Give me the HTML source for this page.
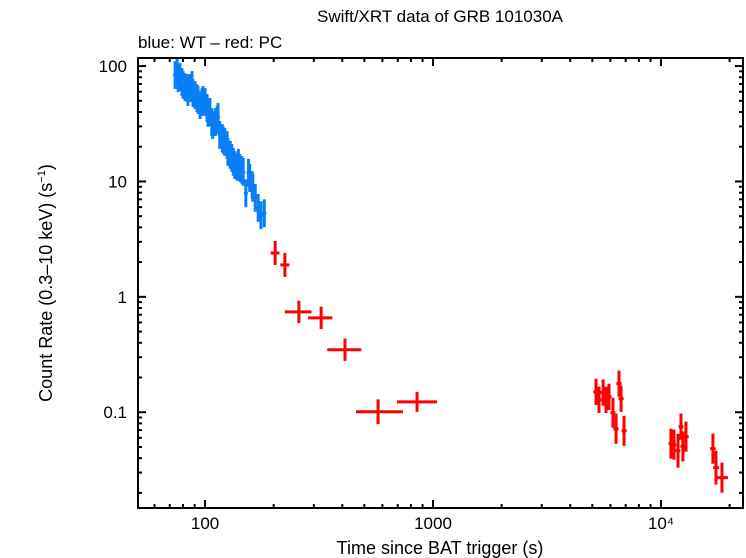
<!DOCTYPE html>
<html><head><meta charset="utf-8"><style>
html,body{margin:0;padding:0;background:#fff;}
svg{display:block;font-family:"Liberation Sans",sans-serif;}
</style></head><body>
<svg id="chart" width="746" height="558" viewBox="0 0 746 558">
<text x="440" y="22" font-size="17" text-anchor="middle">Swift/XRT data of GRB 101030A</text>
<text x="138" y="48" font-size="17">blue: WT – red: PC</text>
<text x="440" y="554" font-size="18" text-anchor="middle">Time since BAT trigger (s)</text>
<text transform="translate(52,283) rotate(-90)" font-size="18" text-anchor="middle">Count Rate (0.3–10 keV) (s<tspan font-size="11" dy="-7">−1</tspan><tspan dy="7">)</tspan></text>
<g id="marks"></g>
<g id="axes"></g>
</svg>
<script>
const wtTime=[73.9,75.4,76.2,77.6,79.2,80.1,81.7,83.4,84.2,85.9,87.7,88.5,90.4,92.2,93.2,95.1,97.0,98.0,100,102,103,105,107,108,111,113,114,116,119,120,122,125,126,129,131,133,135,138,140,142,145,147,151,155,157,161,162,166,171,176,182];
const wtRate=[83.6,89,78.7,80.3,72.6,68.5,65.7,64.5,59.5,64.5,68.5,58.4,56.1,52.8,50.8,45.9,48.8,50.8,48.8,43.3,39.2,40,32.7,30.8,32.7,34.1,36.2,25.3,23.8,22.9,22,20.7,18,17,16,14.8,13.9,13.4,14.5,13.1,12.6,12.1,7.9,11.9,10.7,9.3,8.8,7.2,5.9,5.1,5.3];
const pcTime=[203,224,258,323,411,574,851,5188,5348,5572,5741,5916,6155,6353,6546,6683,6887,11060,11400,11880,12240,12480,12870,16900,17430,18520];
const pcTimeLo=[196,216,226,286,347,464,702,5100,5260,5480,5650,5820,6060,6250,6440,6580,6780,10900,11250,11700,12050,12300,12680,16600,17100,17500];
const pcTimeHi=[210,232,290,358,480,731,1030,5280,5440,5660,5830,6010,6250,6450,6650,6790,7000,11250,11550,12050,12420,12650,13100,17200,17800,19500];
const pcRate=[2.40,1.89,0.741,0.658,0.348,0.101,0.123,0.150,0.128,0.148,0.128,0.136,0.099,0.072,0.177,0.131,0.069,0.0534,0.0523,0.0464,0.0749,0.0505,0.0614,0.0483,0.0331,0.0271];
const pcErr=[1.27,1.27,1.25,1.25,1.25,1.28,1.22,1.3,1.3,1.3,1.3,1.3,1.35,1.35,1.3,1.3,1.35,1.35,1.35,1.4,1.3,1.35,1.35,1.35,1.4,1.35];
const xTickLabels=["100","1000","10⁴"];
const yTickLabels=["0.1","1","10","100"];

const L=138,R=743,T=58,B=508;
const X0=50.8,X1=22900,Y0=Math.pow(10,-1.83),Y1=Math.pow(10,2.07);
function xs(v){return L+(Math.log10(v)-Math.log10(X0))/(Math.log10(X1)-Math.log10(X0))*(R-L);}
function ys(v){return B-(Math.log10(v)-Math.log10(Y0))/(Math.log10(Y1)-Math.log10(Y0))*(B-T);}
const NS="http://www.w3.org/2000/svg";
const marks=document.getElementById('marks'),axes=document.getElementById('axes');
function line(g,x1,y1,x2,y2,c,w){const l=document.createElementNS(NS,'line');l.setAttribute('x1',x1);l.setAttribute('y1',y1);l.setAttribute('x2',x2);l.setAttribute('y2',y2);l.setAttribute('stroke',c);l.setAttribute('stroke-width',w);g.appendChild(l);return l;}
function grp(parent){const g=document.createElementNS(NS,'g');parent.appendChild(g);return g;}
const wtErr=1.32;
wtTime.forEach((t,i)=>{
  const g=grp(marks);
  
  
  const x=xs(t),y=ys(wtRate[i]);
  line(g,x,ys(wtRate[i]*wtErr),x,ys(wtRate[i]/wtErr),'#0a7ff5',3);
  line(g,x-2,y,x+2,y,'#0a7ff5',2.5);
});
pcTime.forEach((t,i)=>{
  const g=grp(marks);
  
  
  const y=ys(pcRate[i]);
  line(g,xs(t),ys(pcRate[i]*pcErr[i]),xs(t),ys(pcRate[i]/pcErr[i]),'#f00',3);
  line(g,xs(pcTimeLo[i])-1,y,xs(pcTimeHi[i])+1,y,'#f00',3);
});
const fr=document.createElementNS(NS,'rect');
fr.setAttribute('x',L);fr.setAttribute('y',T);fr.setAttribute('width',R-L);fr.setAttribute('height',B-T);
fr.setAttribute('fill','none');fr.setAttribute('stroke','#000');fr.setAttribute('stroke-width','2');


axes.appendChild(fr);
for(let e=1;e<=4;e++){for(let m=1;m<=9;m++){const v=m*Math.pow(10,e);if(v<X0||v>X1)continue;const x=xs(v);const len=m===1?8:4;
 line(axes,x,B,x,B-len,'#000',2);line(axes,x,T,x,T+len,'#000',2);}}
[100,1000,10000].forEach((v,i)=>{const t=document.createElementNS(NS,'text');t.setAttribute('x',xs(v));t.setAttribute('y',529);t.setAttribute('font-size','17');t.setAttribute('text-anchor','middle');t.textContent=xTickLabels[i];
 
 
 axes.appendChild(t);});
for(let e=-2;e<=2;e++){for(let m=1;m<=9;m++){const v=m*Math.pow(10,e);if(v<Y0||v>Y1)continue;const y=ys(v);const len=m===1?8:4;
 line(axes,L,y,L+len,y,'#000',2);line(axes,R,y,R-len,y,'#000',2);}}
[0.1,1,10,100].forEach((v,i)=>{const t=document.createElementNS(NS,'text');t.setAttribute('x',127);t.setAttribute('y',ys(v)+6);t.setAttribute('font-size','17');t.setAttribute('text-anchor','end');t.textContent=yTickLabels[i];
 
 
 axes.appendChild(t);});
</script>
</body></html>
